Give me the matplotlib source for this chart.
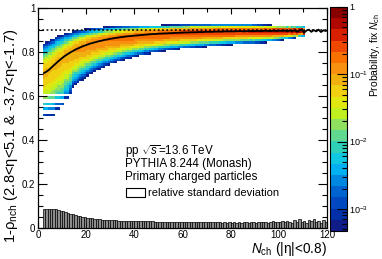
import numpy as np
import matplotlib
matplotlib.use("Agg")
import matplotlib.pyplot as plt
from matplotlib.colors import ListedColormap, LogNorm
from matplotlib.patches import Rectangle
import matplotlib.ticker as mt

plt.rcParams['font.family'] = ['Liberation Sans', 'DejaVu Sans']
plt.rcParams['mathtext.fontset'] = 'custom'
plt.rcParams['mathtext.rm'] = 'Liberation Sans'
plt.rcParams['mathtext.it'] = 'Liberation Sans:italic'
plt.rcParams['mathtext.bf'] = 'Liberation Sans:bold'

# ---------------- data ----------------
nch_first = 2  # first N_ch bin, bins are [n, n+1)

# profile (mean of 1-rho) for n = 2..119
mean_rho = [
    0.706, 0.712, 0.720, 0.730, 0.740, 0.750, 0.760, 0.769, 0.778,            # 2-10
    0.786, 0.793, 0.800, 0.806, 0.812, 0.817, 0.822, 0.827, 0.831, 0.835,     # 11-20
    0.839, 0.842, 0.845, 0.848, 0.851, 0.853, 0.856, 0.858, 0.860, 0.862,     # 21-30
    0.864, 0.866, 0.867, 0.869, 0.870, 0.872, 0.873, 0.874, 0.875, 0.876,     # 31-40
    0.877, 0.878, 0.879, 0.880, 0.881, 0.882, 0.883, 0.883, 0.884, 0.885,     # 41-50
    0.885, 0.886, 0.886, 0.887, 0.887, 0.888, 0.888, 0.889, 0.889, 0.890,     # 51-60
    0.890, 0.890, 0.891, 0.891, 0.891, 0.892, 0.892, 0.892, 0.893, 0.893,     # 61-70
    0.893, 0.893, 0.894, 0.894, 0.894, 0.894, 0.895, 0.895, 0.895, 0.895,     # 71-80
    0.895, 0.896, 0.896, 0.896, 0.895, 0.896, 0.897, 0.896, 0.896, 0.897,     # 81-90
    0.897, 0.896, 0.897, 0.898, 0.897, 0.896, 0.898, 0.897, 0.897, 0.898,     # 91-100
    0.897, 0.899, 0.895, 0.899, 0.896, 0.900, 0.894, 0.899, 0.902, 0.889,     # 101-110
    0.899, 0.903, 0.893, 0.901, 0.895, 0.903, 0.892, 0.900, 0.897,            # 111-119
]

# relative standard deviation for n = 2..119
rel_std = [
    0.089, 0.090, 0.090, 0.089, 0.088, 0.086, 0.083, 0.080, 0.077,            # 2-10
    0.074, 0.070, 0.067, 0.063, 0.060, 0.057, 0.054, 0.052, 0.050, 0.048,     # 11-20
    0.046, 0.045, 0.043, 0.042, 0.041, 0.040, 0.039, 0.038, 0.038, 0.037,     # 21-30
    0.036, 0.036, 0.035, 0.035, 0.034, 0.034, 0.034, 0.033, 0.033, 0.033,     # 31-40
    0.032, 0.032, 0.032, 0.031, 0.031, 0.031, 0.031, 0.030, 0.030, 0.030,     # 41-50
    0.030, 0.030, 0.029, 0.029, 0.029, 0.029, 0.029, 0.029, 0.028, 0.028,     # 51-60
    0.028, 0.028, 0.028, 0.028, 0.028, 0.027, 0.028, 0.027, 0.027, 0.027,     # 61-70
    0.027, 0.027, 0.027, 0.027, 0.027, 0.026, 0.027, 0.026, 0.027, 0.026,     # 71-80
    0.027, 0.026, 0.027, 0.026, 0.027, 0.028, 0.026, 0.027, 0.028, 0.026,     # 81-90
    0.029, 0.027, 0.028, 0.030, 0.026, 0.029, 0.031, 0.027, 0.030, 0.028,     # 91-100
    0.032, 0.027, 0.034, 0.029, 0.025, 0.036, 0.030, 0.041, 0.028, 0.034,     # 101-110
    0.024, 0.039, 0.031, 0.043, 0.027, 0.035, 0.022, 0.038, 0.029,            # 111-119
]

# lower / upper extent of the filled 2D map for n = 2..110
map_lo = [
    0.470, 0.470, 0.470, 0.470, 0.470, 0.505, 0.505, 0.505, 0.505,            # 2-10
    0.555, 0.555, 0.585, 0.625, 0.635, 0.645, 0.655, 0.662, 0.670, 0.680,     # 11-20
    0.688, 0.695, 0.702, 0.708, 0.714, 0.720, 0.725, 0.730, 0.735, 0.740,     # 21-30
    0.744, 0.748, 0.752, 0.756, 0.760, 0.764, 0.767, 0.770, 0.773, 0.776,     # 31-40
    0.779, 0.782, 0.785, 0.787, 0.789, 0.791, 0.793, 0.795, 0.797, 0.799,     # 41-50
    0.801, 0.803, 0.805, 0.806, 0.808, 0.809, 0.811, 0.812, 0.814, 0.815,     # 51-60
    0.816, 0.817, 0.818, 0.819, 0.820, 0.821, 0.822, 0.823, 0.824, 0.825,     # 61-70
    0.826, 0.827, 0.828, 0.829, 0.830, 0.831, 0.832, 0.833, 0.833, 0.834,     # 71-80
    0.835, 0.836, 0.836, 0.837, 0.838, 0.838, 0.839, 0.840, 0.840, 0.841,     # 81-90
    0.842, 0.843, 0.844, 0.845, 0.846, 0.847, 0.848, 0.850, 0.851, 0.853,     # 91-100
    0.855, 0.857, 0.859, 0.861, 0.863, 0.865, 0.867, 0.869, 0.871, 0.873,     # 101-110
]
map_hi = [
    0.860, 0.866, 0.872, 0.877, 0.882, 0.886, 0.890, 0.893, 0.896,            # 2-10
    0.899, 0.901, 0.903, 0.905, 0.907, 0.909, 0.910, 0.911, 0.912, 0.913,     # 11-20
    0.914, 0.915, 0.916, 0.917, 0.918, 0.918, 0.919, 0.920, 0.920, 0.921,     # 21-30
    0.921, 0.922, 0.922, 0.922, 0.923, 0.923, 0.923, 0.924, 0.924, 0.924,     # 31-40
    0.924, 0.925, 0.925, 0.925, 0.925, 0.925, 0.925, 0.925, 0.925, 0.925,     # 41-50
    0.926, 0.926, 0.926, 0.927, 0.927, 0.927, 0.928, 0.928, 0.928, 0.929,     # 51-60
    0.929, 0.929, 0.930, 0.930, 0.930, 0.930, 0.930, 0.930, 0.930, 0.930,     # 61-70
    0.930, 0.930, 0.930, 0.930, 0.930, 0.930, 0.930, 0.930, 0.930, 0.930,     # 71-80
    0.930, 0.930, 0.930, 0.930, 0.930, 0.930, 0.929, 0.929, 0.928, 0.928,     # 81-90
    0.927, 0.927, 0.926, 0.926, 0.925, 0.925, 0.924, 0.924, 0.923, 0.923,     # 91-100
    0.922, 0.922, 0.921, 0.921, 0.920, 0.920, 0.919, 0.919, 0.918, 0.918,     # 101-110
]

# sparse horizontal stripes of the low-N_ch tail: (row centre, last n)
tail_rows = [0.475, 0.495, 0.515, 0.545, 0.565, 0.595]
tail_nmax = [5, 3, 9, 8, 12, 13]
tail_top = 0.61

ybin = 0.01
y_edges = np.round(np.arange(0.40, 0.951, ybin), 3)

# 20-level palette, bottom -> top
pal = ['#101c88', '#0030a8', '#0048c0', '#0064d0', '#0088e0', '#00b0f0',
       '#10c8e0', '#30d0b8', '#60d890', '#90e060', '#c0f020', '#e0e810',
       '#f0d010', '#f0b010', '#f89010', '#f87000', '#f04800', '#d82000',
       '#b00800', '#880000']
zmin, zmax = 10 ** -3.33, 1.0
edge_k = 3.6   # extent of the map ~ edge_k widths from the profile

# ---------------- build the 2D probability map ----------------
n_map = np.arange(nch_first, nch_first + len(map_lo))
yc = 0.5 * (y_edges[:-1] + y_edges[1:])
Z = np.full((len(yc), len(n_map)), np.nan)
for j, n in enumerate(n_map):
    m = mean_rho[j]
    lo, hi = map_lo[j], map_hi[j]
    s = np.where(yc < m, (m - lo) / edge_k, (hi - m) / edge_k)
    p = np.exp(-0.5 * ((yc - m) / s) ** 2)
    inside = (yc >= lo) & (yc <= hi)
    p = np.where(inside, p, 0.0)
    p = p / p.sum()
    keep = inside & (p >= zmin)
    low = yc < tail_top
    tail_ok = np.zeros_like(keep)
    for r, nm in zip(tail_rows, tail_nmax):
        if n <= nm:
            tail_ok |= np.isclose(yc, r)
    keep &= (~low) | tail_ok
    Z[:, j] = np.where(keep, p, np.nan)
Zm = np.ma.masked_invalid(Z)

# ---------------- figure ----------------
fig = plt.figure(figsize=(3.82, 2.59), dpi=100)
ax = fig.add_axes([38 / 382, 1 - 228.3 / 259, 289 / 382, 220 / 259])
cax = fig.add_axes([330 / 382, 1 - 231 / 259, 17 / 382, 224 / 259])

cmap = ListedColormap(pal)
norm = LogNorm(vmin=zmin, vmax=zmax)
x_edges = np.arange(nch_first, nch_first + len(map_lo) + 1)
mesh = ax.pcolormesh(x_edges, y_edges, Zm, cmap=cmap, norm=norm, zorder=1)

ax.axhline(0.9, color='black', lw=1.1, ls=(0, (1.2, 1.6)), zorder=3)

n_all = np.arange(nch_first, nch_first + len(mean_rho))
ax.bar(n_all, rel_std, width=1.0, align='edge', color='#8c8c8c',
       edgecolor='black', linewidth=0.5, zorder=2)
ax.plot(n_all + 0.5, mean_rho, color='black', lw=1.3, zorder=4)

ax.set_xlim(0, 120)
ax.set_ylim(0, 1)
ax.xaxis.set_major_locator(mt.MultipleLocator(20))
ax.xaxis.set_minor_locator(mt.MultipleLocator(10))
ax.yaxis.set_major_locator(mt.MultipleLocator(0.2))
ax.yaxis.set_minor_locator(mt.MultipleLocator(0.05))
ax.yaxis.set_major_formatter(mt.FuncFormatter(
    lambda v, p: '0' if abs(v) < 1e-9 else ('1' if abs(v - 1) < 1e-9 else f'{v:.1f}')))
ax.tick_params(which='both', direction='in', top=True, right=True,
               labelsize=7, width=0.8)
ax.tick_params(axis='y', which='major', length=6.5, pad=2)
ax.tick_params(axis='y', which='minor', length=3.5)
ax.tick_params(axis='x', which='major', length=4.5, pad=1.5)
ax.tick_params(axis='x', which='minor', length=3)
for sp in ax.spines.values():
    sp.set_linewidth(0.9)

# texts
tx = (125 - 38) / 289
ax.text(tx, (228.3 - 155) / 220, r'pp $\sqrt{s}$=13.6 TeV',
        transform=ax.transAxes, fontsize=8.4, va='baseline', ha='left')
ax.text(tx, (228.3 - 167.5) / 220, 'PYTHIA 8.244 (Monash)',
        transform=ax.transAxes, fontsize=8.4, va='baseline', ha='left')
ax.text(tx, (228.3 - 180) / 220, 'Primary charged particles',
        transform=ax.transAxes, fontsize=8.4, va='baseline', ha='left')
ax.add_patch(Rectangle(((126 - 38) / 289, (228.3 - 197) / 220),
                       19 / 289, 9 / 220, transform=ax.transAxes,
                       facecolor='white', edgecolor='black', lw=0.8, zorder=5))
ax.text((148 - 38) / 289, (228.3 - 192.5) / 220, 'relative standard deviation',
        transform=ax.transAxes, fontsize=8, va='center', ha='left')

ax.text(1.0, (228.3 - 248.5) / 220, r'$N_{\rm ch}$ (|η|<0.8)',
        transform=ax.transAxes, fontsize=9.8, ha='right', va='center')
fig.text(11 / 382, 1 - 136 / 259,
         r'1-ρ$_{\rm nch}$ (2.8<η<5.1 & -3.7<η<-1.7)',
         rotation=90, fontsize=10.6, ha='center', va='center')

# colorbar
cb = fig.colorbar(mesh, cax=cax)
cb.outline.set_linewidth(0.8)
cb.set_ticks([1e-3, 1e-2, 1e-1, 1.0])
cb.set_ticklabels([r'$10^{-3}$', r'$10^{-2}$', r'$10^{-1}$', '1'])
cax.yaxis.set_minor_locator(mt.LogLocator(base=10, subs=np.arange(2, 10)))
cax.yaxis.set_minor_formatter(mt.NullFormatter())
cax.tick_params(which='both', direction='in', labelsize=6.5, pad=1.5, width=0.8)
cax.tick_params(which='major', length=7)
cax.tick_params(which='minor', length=3.5)
fig.text(375.5 / 382, 1 - 13 / 259, r'Probability, fix $N_{\rm ch}$',
         rotation=90, fontsize=7.5, ha='center', va='top')

fig.savefig('out.png', dpi=100)
